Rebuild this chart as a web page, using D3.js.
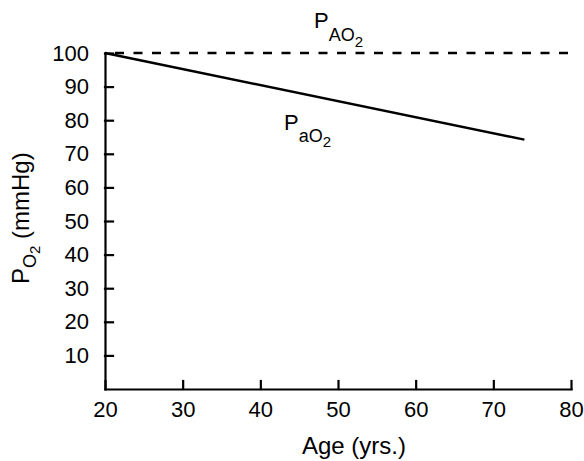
<!DOCTYPE html>
<html>
<head>
<meta charset="utf-8">
<script src="https://cdn.jsdelivr.net/npm/d3@7"></script>
<style>
    body { margin: 0; background: #fff; }
    text { font-family: "Liberation Sans", Arial, Helvetica, sans-serif; fill: #000; }
    .axis text { font-size: 22px; }
</style>
</head>
<body>
<div id="chart"></div>
<script>
// Data
const ageTicks = [20, 30, 40, 50, 60, 70, 80];
const po2Ticks = [10, 20, 30, 40, 50, 60, 70, 80, 90, 100];
const alveolarAge = [20, 80];
const alveolarPO2 = [100, 100];   // PAO2, flat
const arterialAge = [20, 74];
const arterialPO2 = [100, 74.2];  // PaO2, falls with age

const width = 584, height = 461;
const svg = d3.select('#chart').append('svg')
    .attr('width', width)
    .attr('height', height);

const x = d3.scaleLinear().domain([20, 80]).range([105, 571]);
const y = d3.scaleLinear().domain([0, 100]).range([389, 53]);

//=============== Axes ===============
const xAxis = svg.append('g')
    .attr('class', 'axis')
    .attr('transform', 'translate(0,' + y(0) + ')')
    .call(d3.axisBottom(x).tickValues(ageTicks).tickSizeInner(-8).tickSizeOuter(0).tickPadding(12));

const yAxis = svg.append('g')
    .attr('class', 'axis')
    .attr('transform', 'translate(' + x(20) + ',0)')
    .call(d3.axisLeft(y).tickValues(po2Ticks).tickSizeInner(-8).tickSizeOuter(0).tickPadding(16));

svg.selectAll('.axis path, .axis line')
    .attr('stroke', '#000')
    .attr('stroke-width', 2.2)
    .attr('stroke-linecap', 'square');

//=============== Lines ===============
const line = d3.line().x(d => x(d[0])).y(d => y(d[1]));

svg.append('path')
    .datum(d3.zip(alveolarAge, alveolarPO2))
    .attr('d', line)
    .attr('fill', 'none')
    .attr('stroke', '#000')
    .attr('stroke-width', 2.4)
    .attr('stroke-dasharray', '9,9.5')
    .attr('stroke-dashoffset', -10);

svg.append('path')
    .datum(d3.zip(arterialAge, arterialPO2))
    .attr('d', line)
    .attr('fill', 'none')
    .attr('stroke', '#000')
    .attr('stroke-width', 2.4);

//=============== Labels ===============
// P with subscript and a smaller "2"
function subLabel(px, py, sub, subDy, twoDy) {
    const t = svg.append('text')
        .attr('x', px)
        .attr('y', py)
        .style('font-size', '22px');
    t.append('tspan').text('P');
    t.append('tspan').attr('dy', subDy).style('font-size', '18px').text(sub);
    t.append('tspan').attr('dy', twoDy).style('font-size', '15px').text('2');
    return t;
}

subLabel(314, 28, 'AO', 13, 6);
subLabel(284, 130, 'aO', 12, 5);

// y axis title
const yTitle = svg.append('text')
    .attr('transform', 'translate(29,284) rotate(-90)')
    .style('font-size', '24px');
yTitle.append('tspan').text('P');
yTitle.append('tspan').attr('dy', 7).style('font-size', '18px').text('O');
yTitle.append('tspan').attr('dy', 4).style('font-size', '15px').text('2');
yTitle.append('tspan').attr('dy', -11).text(' (mmHg)');

// x axis title
svg.append('text')
    .attr('x', 354)
    .attr('y', 454)
    .attr('text-anchor', 'middle')
    .style('font-size', '24px')
    .text('Age (yrs.)');
</script>
</body>
</html>
